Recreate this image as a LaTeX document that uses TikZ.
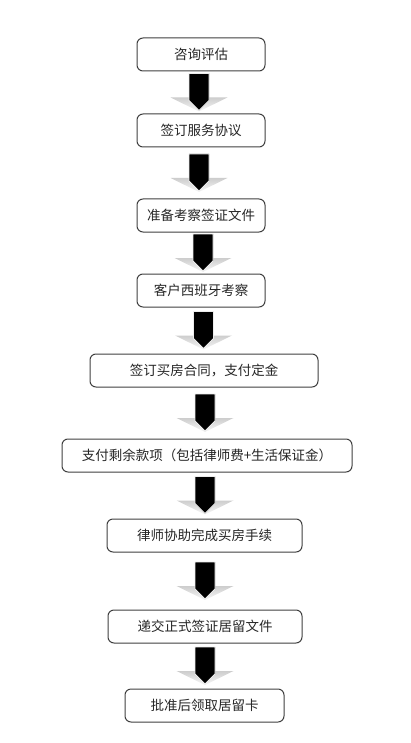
\documentclass[tikz,border=0pt]{standalone}
\usepackage{fontspec}
\setmainfont{Noto Sans CJK SC}
\usepackage{tikz}
\usetikzlibrary{positioning,calc}
\definecolor{boxline}{RGB}{64,64,64}
\definecolor{winggray}{RGB}{205,205,205}

% block arrow between two steps, #3 = x of its axis
\newcommand{\flowarrow}[3]{%
  \path let \p1=($(#1.south)!0.5!(#2.north)$) in (#3,\y1) coordinate (arrmid);
  \begin{scope}[shift={(arrmid)}]
    \shade[top color=winggray, bottom color=gray!5] (-28.5,-5) -- (28.5,-5) -- (0,-19) -- cycle;
    \fill[black, draw=gray!15, line width=0.8pt] (-10,19) -- (10,19) -- (10,-8) -- (0,-18) -- (-10,-8) -- cycle;
  \end{scope}
}

\begin{document}
\begin{tikzpicture}[
        x=1pt, y=1pt,
        font=\fontsize{13.5}{16}\selectfont,
        stepbox/.style={rectangle, rounded corners=6pt, draw=boxline, line width=1pt, fill=white, text=black!85, minimum height=33pt, minimum width=#1, inner sep=2pt}
    ]
        \useasboundingbox (0,0) rectangle (411,-743);
        \node[stepbox=128pt] (consult) at (201,-54.5) {咨询评估};
        \node[stepbox=128pt, below=42pt of consult] (service) {签订服务协议};
        \node[stepbox=128pt, below=51pt of service] (visadocs) {准备考察签证文件};
        \node[stepbox=128pt, below=41pt of visadocs] (visit) {客户西班牙考察};
        \node[stepbox=228pt, below=46pt of visit, xshift=3pt] (contract) {签订买房合同，支付定金};
        \node[stepbox=290pt, below=51pt of contract, xshift=3pt] (payment) {支付剩余款项（包括律师费+生活保证金）};
        \node[stepbox=195pt, below=46pt of payment, xshift=-2.5pt] (lawyer) {律师协助完成买房手续};
        \node[stepbox=194pt, below=57pt of lawyer, xshift=0.5pt] (residence) {递交正式签证居留文件};
        \node[stepbox=159pt, below=45pt of residence, xshift=-0.5pt] (card) {批准后领取居留卡};

        \flowarrow{consult}{service}{199}
        \flowarrow{service}{visadocs}{199}
        \flowarrow{visadocs}{visit}{203}
        \flowarrow{visit}{contract}{203.5}
        \flowarrow{contract}{payment}{205}
        \flowarrow{payment}{lawyer}{205}
        \flowarrow{lawyer}{residence}{205}
        \flowarrow{residence}{card}{205}
    \end{tikzpicture}
\end{document}
